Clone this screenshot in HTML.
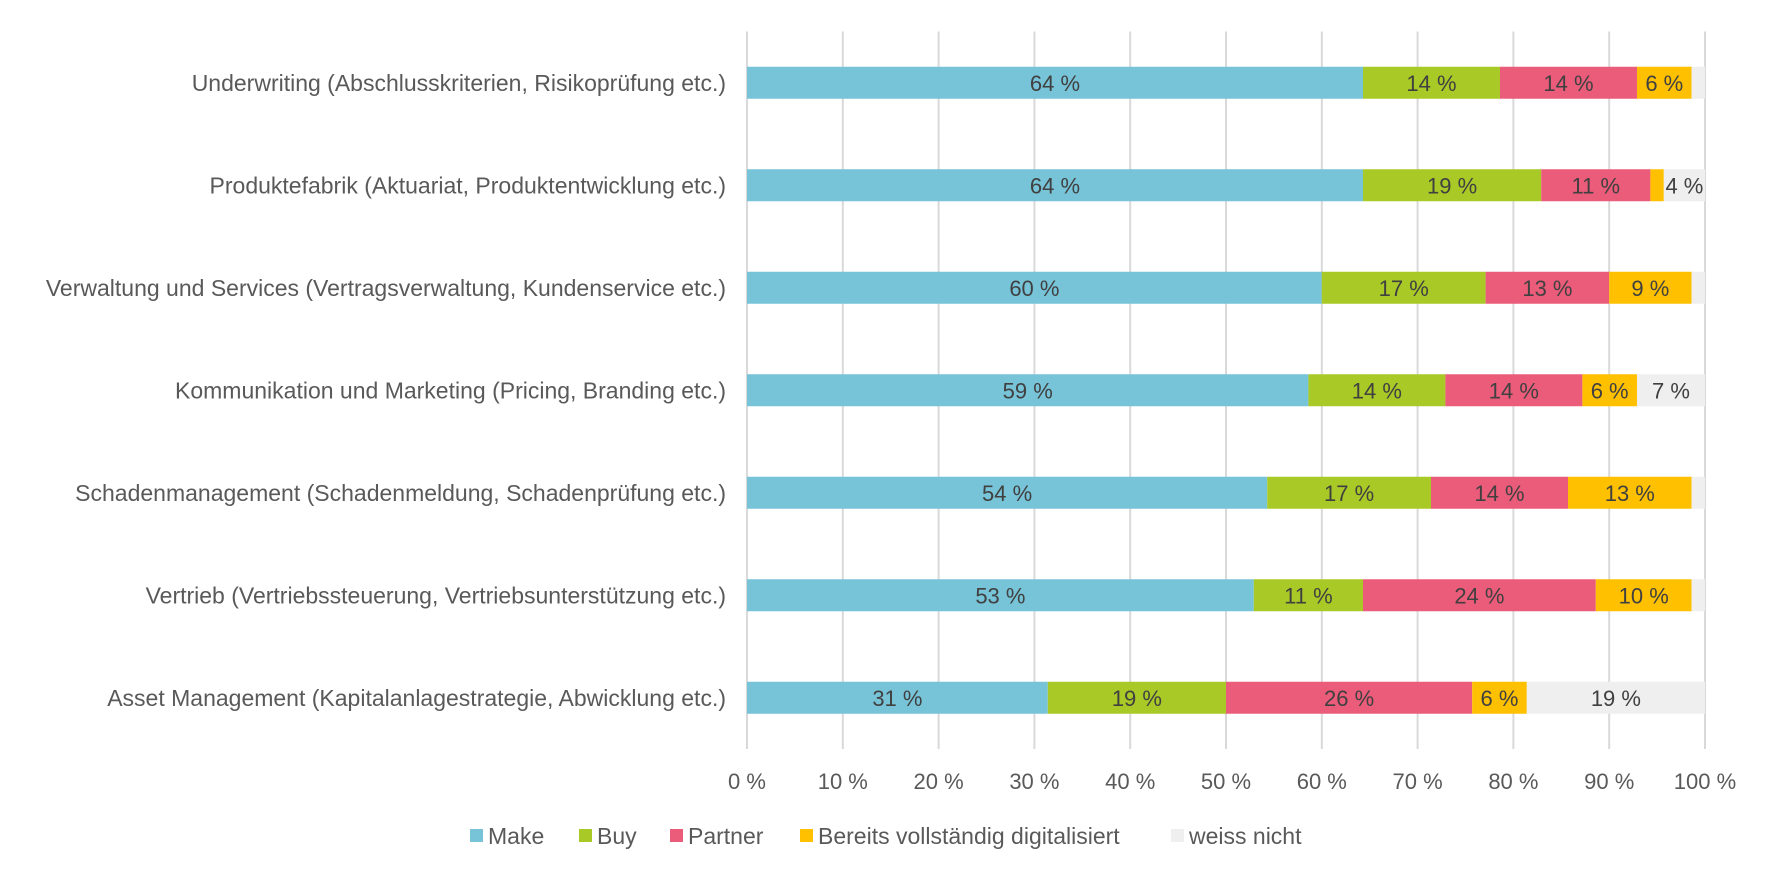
<!DOCTYPE html>
<html><head><meta charset="utf-8"><style>
body{margin:0;background:#fff;width:1770px;height:875px;overflow:hidden}
svg text{font-family:"Liberation Sans",sans-serif;fill:#595959}
</style></head><body>
<svg id="chart" width="1770" height="875"></svg>
<script>
const categories=["Underwriting (Abschlusskriterien, Risikoprüfung etc.)","Produktefabrik (Aktuariat, Produktentwicklung etc.)","Verwaltung und Services (Vertragsverwaltung, Kundenservice etc.)","Kommunikation und Marketing (Pricing, Branding etc.)","Schadenmanagement (Schadenmeldung, Schadenprüfung etc.)","Vertrieb (Vertriebssteuerung, Vertriebsunterstützung etc.)","Asset Management (Kapitalanlagestrategie, Abwicklung etc.)"];
const seriesNames=["Make","Buy","Partner","Bereits vollständig digitalisiert","weiss nicht"];
const make=[64.3,64.3,60,58.6,54.3,52.9,31.4];
const buy=[14.3,18.6,17.1,14.3,17.1,11.4,18.6];
const partner=[14.3,11.4,12.9,14.3,14.3,24.3,25.7];
const digital=[5.7,1.4,8.6,5.7,12.9,10,5.7];
const unknown=[1.4,4.3,1.4,7.1,1.4,1.4,18.6];
const ticks=[0,10,20,30,40,50,60,70,80,90,100];
const colors=["#77C4D9","#A9C927","#EB5B7A","#FFC000","#EFEFEF"];
const series=[make,buy,partner,digital,unknown];
const NS="http://www.w3.org/2000/svg";
const svg=document.getElementById('chart');
const x0=747,x1=1705,plotTop=31.5,band=102.5,barH=32;
const xs=v=>x0+(x1-x0)*v/100;
function mk(t,a){const e=document.createElementNS(NS,t);for(const k in a)e.setAttribute(k,a[k]);svg.appendChild(e);return e;}
ticks.forEach((t,i)=>{
 const g=mk('line',{x1:xs(t),x2:xs(t),y1:plotTop,y2:plotTop+band*categories.length,stroke:'#d9d9d9','stroke-width':2});
 
 
 const l=mk('text',{x:xs(t),y:789,'text-anchor':'middle','font-size':22});
 l.textContent=t+' %';
 
 
});
categories.forEach((c,i)=>{
 const cy=plotTop+band*(i+0.5);
 const l=mk('text',{x:726,y:cy+8,'text-anchor':'end','font-size':23});
 l.textContent=c;
 
 
 let acc=0;
 series.forEach((s,j)=>{
  const v=s[i];
  const r=mk('rect',{x:xs(acc),y:cy-barH/2,width:xs(acc+v)-xs(acc),height:barH,fill:colors[j]});
  
  
  if(v>=3){
   const t=mk('text',{x:(xs(acc)+xs(acc+v))/2,y:cy+8,'text-anchor':'middle','font-size':22,style:'fill:#404040'});
   t.textContent=Math.round(v)+' %';
   
   
  }
  acc+=v;
 });
});
const lx=[470,579,670,800,1171];
seriesNames.forEach((n,j)=>{
 const r=mk('rect',{x:lx[j],y:829,width:13,height:13,fill:colors[j]});
 
 
 const t=mk('text',{x:lx[j]+18,y:844,'font-size':23});
 t.textContent=n;
 
 
});
</script>
</body></html>
